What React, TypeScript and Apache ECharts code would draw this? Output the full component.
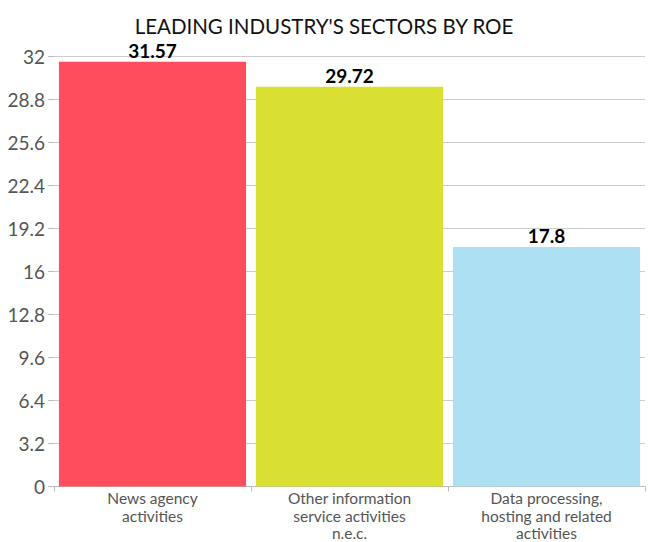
import React, { useEffect, useRef } from "react";
import * as echarts from "echarts";

const categories = [
  "News agency\nactivities",
  "Other information\nservice activities\nn.e.c.",
  "Data processing,\nhosting and related\nactivities",
];
const values = [31.57, 29.72, 17.8];
const colors = ["#FF4D5E", "#D9E032", "#ADE0F2"];
const yMax = 32;
const yInterval = 3.2;
const FONT = "Lato";

export default function App() {
  const ref = useRef<HTMLDivElement>(null);
  useEffect(() => {
    if (!ref.current) return;
    const chart = echarts.init(ref.current, undefined, { renderer: "svg" });
    chart.setOption({
      animation: false,
      title: {
        text: "LEADING INDUSTRY'S SECTORS BY ROE",
        left: "center",
        top: 10,
        textStyle: {
          fontFamily: FONT,
          fontSize: 20.5,
          fontWeight: "normal",
          color: "#111",
        },
      },
      grid: { left: 54, right: 3, top: 56, bottom: 53 },
      xAxis: {
        type: "category",
        data: categories,
        axisLine: { show: true, lineStyle: { color: "#bbb" } },
        axisTick: { show: true, lineStyle: { color: "#bbb" } },
        axisLabel: {
          fontFamily: FONT,
          fontSize: 15.5,
          color: "#555",
          lineHeight: 17.5,
          margin: 3,
          interval: 0,
        },
      },
      yAxis: {
        type: "value",
        min: 0,
        max: yMax,
        interval: yInterval,
        axisLine: { show: false },
        axisTick: { show: true, length: 6, lineStyle: { color: "#bbb" } },
        axisLabel: {
          fontFamily: FONT,
          fontSize: 19,
          color: "#555",
          margin: 9,
        },
        splitLine: { lineStyle: { color: "#ccc" } },
      },
      series: [
        {
          type: "bar",
          data: values.map((v, i) => ({ value: v, itemStyle: { color: colors[i] } })),
          barCategoryGap: "5%",
          label: {
            show: true,
            position: "top",
            fontFamily: FONT,
            fontSize: 19,
            fontWeight: "bold",
            color: "#000",
            distance: 2,
          },
        },
      ],
    });
    return () => chart.dispose();
  }, []);
  return (
    <div
      ref={ref}
      style={{ position: "absolute", left: 0, top: 0, width: 648, height: 542 }}
    />
  );
}
